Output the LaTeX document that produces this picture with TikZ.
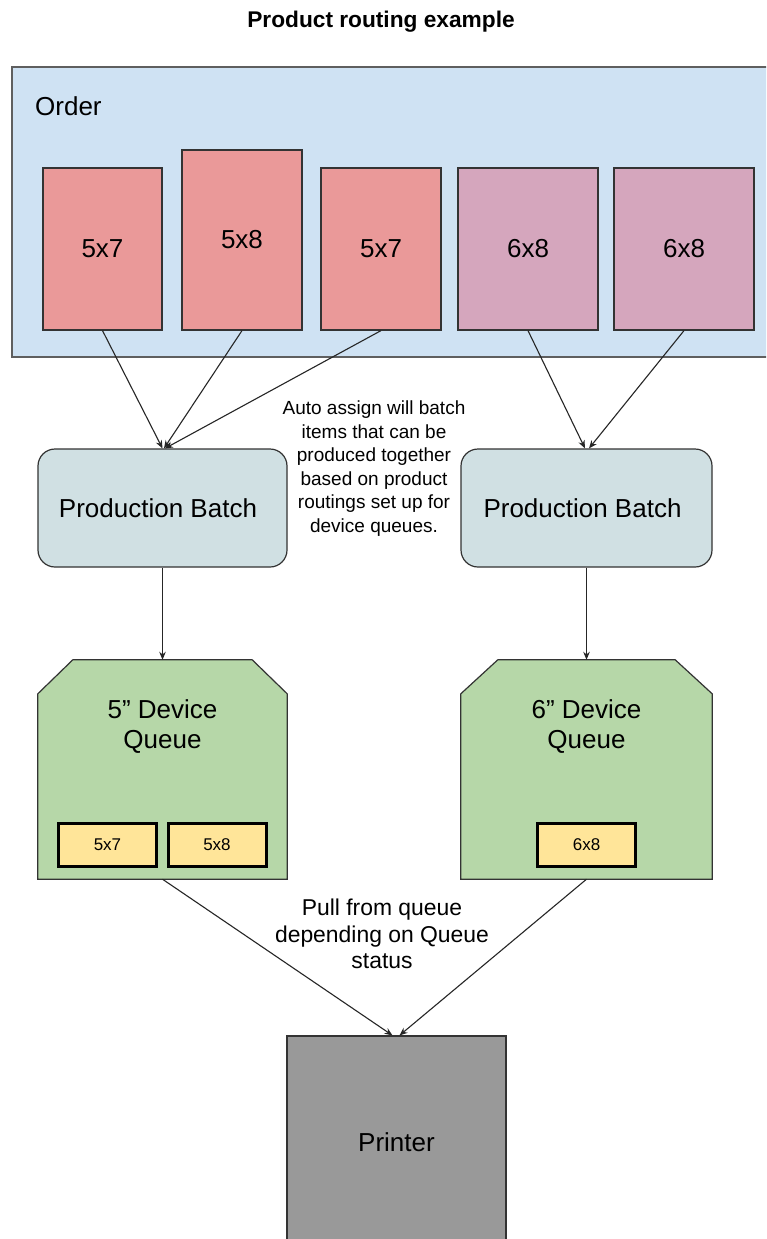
\documentclass[tikz,border=0pt]{standalone}
\usepackage{fontspec}
\setmainfont{Liberation Sans}
\usetikzlibrary{arrows.meta,calc}
\definecolor{orderfill}{HTML}{CFE2F3}
\definecolor{redfill}{HTML}{EA9999}
\definecolor{pinkfill}{HTML}{D5A6BD}
\definecolor{pbfill}{HTML}{D0E0E3}
\definecolor{qfill}{HTML}{B6D7A8}
\definecolor{yfill}{HTML}{FFE599}
\definecolor{prfill}{HTML}{999999}
\definecolor{edgecol}{HTML}{333333}
\definecolor{ordedge}{HTML}{5F5F5F}
\begin{document}
\begin{tikzpicture}[x=1pt,y=-1pt,
  bigfont/.style={font=\fontsize{26}{30}\selectfont},
  orderbox/.style={draw=ordedge, line width=1.5pt, fill=orderfill, inner sep=0pt},
  itembox/.style={draw=edgecol, line width=1.2pt, inner sep=0pt, bigfont},
  pbbox/.style={draw=edgecol, line width=1.2pt, fill=pbfill, rounded corners=17pt, inner sep=0pt, bigfont, minimum height=118pt},
  qanchor/.style={inner sep=0pt, minimum height=219pt},
  qshape/.style={draw=edgecol, line width=1.2pt, fill=qfill},
  qtext/.style={bigfont, align=center, inner sep=0pt},
  ybox/.style={draw=black, line width=3pt, fill=yfill, inner sep=0pt, minimum width=98pt, minimum height=43pt, font=\fontsize{17}{20}\selectfont},
  prbox/.style={draw=edgecol, line width=1.2pt, fill=prfill, inner sep=0pt, bigfont, minimum width=219pt, minimum height=212pt},
  note/.style={align=center, inner sep=0pt},
  conn/.style={draw=black!85, line width=1.1pt, -{Stealth[length=8pt,width=6.5pt]}}
]
\clip (0,0) rectangle (766,1239);
\fill[white] (0,0) rectangle (766,1239);

% title
\node[anchor=base, inner sep=0pt, font=\fontsize{22.7}{26}\selectfont\bfseries] (title) at (381,28) {Product routing example};

% order container
\node[orderbox, minimum width=763pt, minimum height=290pt] (order) at (393.5,212) {};
\node[anchor=base west, inner sep=0pt, bigfont] (ordlabel) at (35,115) {Order};

% items
\node[itembox, fill=redfill, minimum width=119pt, minimum height=162pt] (i1) at (102.5,249) {5x7};
\node[itembox, fill=redfill, minimum width=120pt, minimum height=180pt] (i2) at (242,240) {5x8};
\node[itembox, fill=redfill, minimum width=120pt, minimum height=162pt] (i3) at (381,249) {5x7};
\node[itembox, fill=pinkfill, minimum width=140pt, minimum height=162pt] (i4) at (528,249) {6x8};
\node[itembox, fill=pinkfill, minimum width=140pt, minimum height=162pt] (i5) at (684,249) {6x8};

% production batches
\node[pbbox, minimum width=249pt] (pb1) at (162.5,508) {Production Batch\hspace*{9pt}};
\node[pbbox, minimum width=251pt] (pb2) at (586.5,508) {Production Batch\hspace*{8pt}};

% annotation
\node[note, font=\fontsize{19}{23.5}\selectfont] (autonote) at (374,468.5)
  {Auto assign will batch\\items that can be\\produced together\\based on product\\routings set up for\\device queues.};

% queues
\node[qanchor, minimum width=249pt] (q1) at (162.5,769.5) {};
\draw[qshape] (q1.south west) -- ($(q1.north west)+(0,34)$) -- ($(q1.north west)+(35,0)$)
  -- ($(q1.north east)+(-35,0)$) -- ($(q1.north east)+(0,34)$) -- (q1.south east) -- cycle;
\node[qtext] (q1t) at (162.5,727) {5” Device\\Queue};
\node[ybox] (s1) at (107.5,845) {5x7};
\node[ybox] (s2) at (217,845) {5x8};

\node[qanchor, minimum width=251pt] (q2) at (586.5,769.5) {};
\draw[qshape] (q2.south west) -- ($(q2.north west)+(0,34)$) -- ($(q2.north west)+(37,0)$)
  -- ($(q2.north east)+(-37,0)$) -- ($(q2.north east)+(0,34)$) -- (q2.south east) -- cycle;
\node[qtext] (q2t) at (586.5,727) {6” Device\\Queue};
\node[ybox] (s3) at (586.5,845) {6x8};

% pull note
\node[note, font=\fontsize{22.9}{26.2}\selectfont] (pullnote) at (382,934)
  {Pull from queue\\depending on Queue\\status};

% printer
\node[prbox] (printer) at (396.5,1142) {Printer};

% connectors
\draw[conn] (i1.south) -- (pb1.north);
\draw[conn] (i2.south) -- ([xshift=1.5pt]pb1.north);
\draw[conn] (i3.south) -- ([xshift=2.5pt]pb1.north);
\draw[conn] (i4.south) -- ([xshift=-1.5pt]pb2.north);
\draw[conn] (i5.south) -- ([xshift=2.5pt]pb2.north);
\draw[conn] (pb1.south) -- (q1.north);
\draw[conn] (pb2.south) -- (q2.north);
\draw[conn] (q1.south) -- ([xshift=-4pt]printer.north);
\draw[conn] (q2.south) -- ([xshift=3pt]printer.north);
\end{tikzpicture}
\end{document}
